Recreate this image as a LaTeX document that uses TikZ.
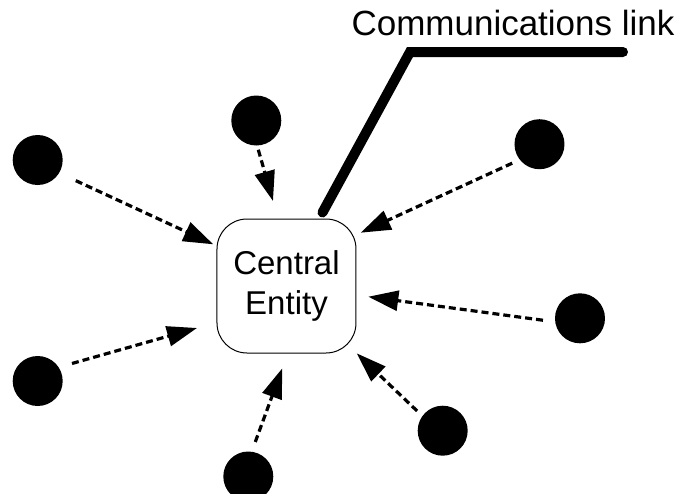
\documentclass[tikz,border=0pt]{standalone}
\usepackage{fontspec}
\setmainfont{Liberation Sans}
\usetikzlibrary{arrows.meta}
\begin{document}
\begin{tikzpicture}[x=0.5pt,y=-0.5pt,
  peer/.style={circle,fill=black,minimum size=25pt,inner sep=0pt},
  hub/.style={draw=black,line width=0.5pt,rounded corners=15pt,
    minimum width=69.5pt,minimum height=67pt,inner sep=0pt,align=center,
    font=\fontsize{16.5pt}{20pt}\selectfont},
  msg/.style={line width=1.6pt,dash pattern=on 3.5pt off 2pt,
    -{Triangle[length=15pt,width=10pt]}},
  link/.style={line width=5pt,line cap=round,line join=miter}]
\useasboundingbox (0,0) rectangle (677,494);
\clip (0,0) rectangle (677,494);

% central entity
\node[hub] (hub) at (286.5,286) {Central\\Entity};

% peers
\node[peer] (p1) at (37.7,160) {};
\node[peer] (p2) at (256.3,120.5) {};
\node[peer] (p3) at (539.5,144.2) {};
\node[peer] (p4) at (580,318.3) {};
\node[peer] (p5) at (442.7,430.7) {};
\node[peer] (p6) at (248.3,476.5) {};
\node[peer] (p7) at (37.7,381) {};

% arrow tips near the central entity
\coordinate (t1) at (213.3,244.3);
\coordinate (t2) at (273,201);
\coordinate (t3) at (360.7,232.7);
\coordinate (t4) at (368.3,296.7);
\coordinate (t5) at (356.7,353.3);
\coordinate (t6) at (282.3,368.3);
\coordinate (t7) at (197,328);

\draw[msg,shorten <=9pt] (p1.329.5) -- (t1);
\draw[msg,shorten <=2pt] (p2.272) -- (t2);
\draw[msg,shorten <=4pt] (p3.218.5) -- (t3);
\draw[msg,shorten <=6pt] (p4.188.8) -- (t4);
\draw[msg,shorten <=3.5pt] (p5.144) -- (t5);
\draw[msg,shorten <=5pt] (p6.82) -- (t6);
\draw[msg,shorten <=6.75pt] (p7.33) -- (t7);

% communications link with its label
\coordinate (lk1) at (322.5,212.5);
\coordinate (lk2) at (410,52);
\coordinate (lk3) at (623,52);
\draw[link] (lk1) -- (lk2) -- (lk3);
\node[anchor=base,inner sep=0pt,font=\fontsize{17.5pt}{21pt}\selectfont]
  (lbl) at (513,35) {Communications link};
\end{tikzpicture}
\end{document}
